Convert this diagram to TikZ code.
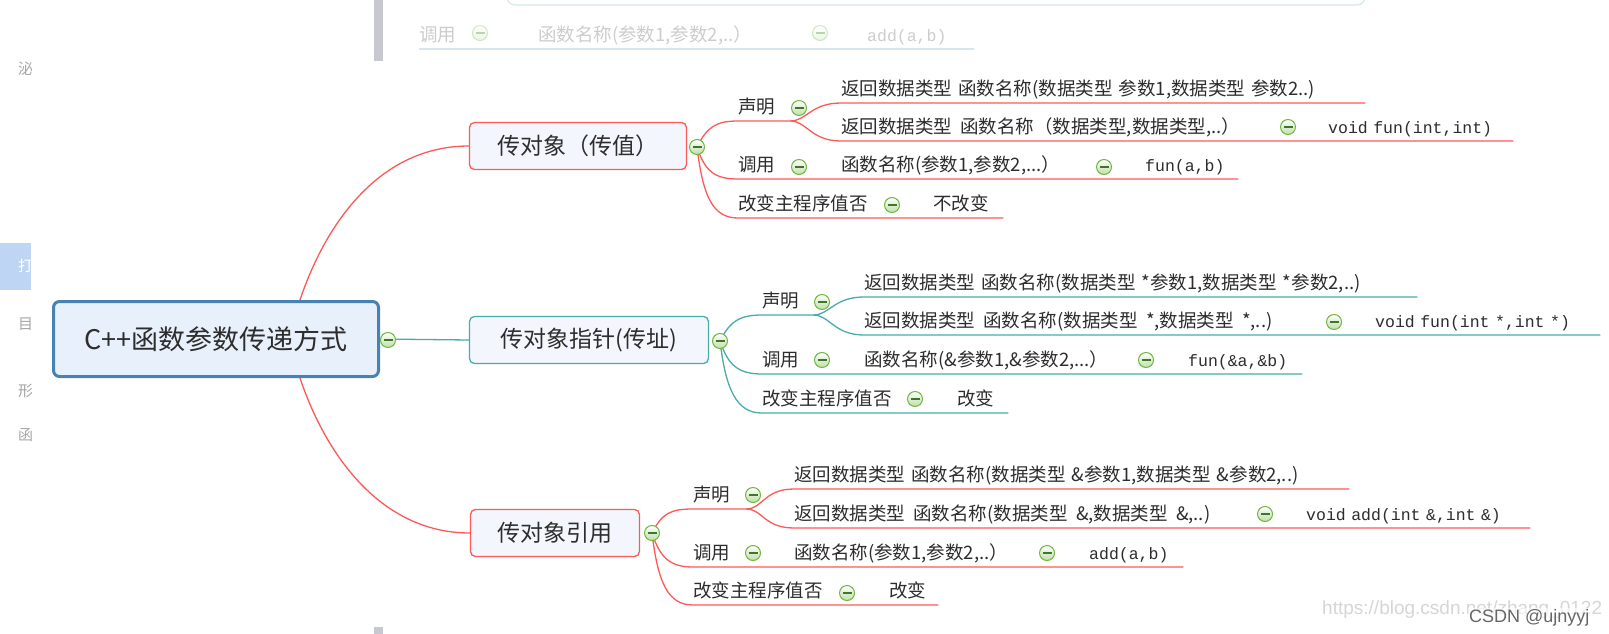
\documentclass[tikz,border=0pt]{standalone}
\usepackage{fontspec}
\setmainfont{Noto Sans CJK SC}[WordSpace=2]
\newfontfamily\codefont{Liberation Mono}
\newfontfamily\markfont{Liberation Sans}
\usetikzlibrary{backgrounds}

\definecolor{ink}{RGB}{45,45,45}
\definecolor{mapred}{RGB}{255,88,88}
\definecolor{mapteal}{RGB}{72,172,172}
\definecolor{rootblue}{RGB}{70,130,180}
\definecolor{rootfill}{RGB}{232,241,251}
\definecolor{topicfill}{RGB}{243,247,253}
\definecolor{knobgreen}{RGB}{112,182,64}
\definecolor{knobdark}{RGB}{60,120,40}
\definecolor{ghosttext}{RGB}{205,205,205}
\definecolor{ghostline}{RGB}{214,230,240}
\definecolor{sidebar}{RGB}{200,200,208}
\definecolor{sidetab}{RGB}{190,214,244}

\begin{document}
\begin{tikzpicture}[
  x=1pt, y=-1pt,
  txt/.style={anchor=south west, inner xsep=0pt, inner ysep=4pt, text height=13pt, text depth=3pt, align=left, text=ink, font=\fontsize{18.5}{20}\selectfont},
  codetxt/.style={txt, font=\codefont\fontsize{16.5}{18}\selectfont},
  topicbox/.style={draw, rounded corners=5pt, line width=1.3pt, fill=topicfill, minimum height=47pt, text=ink, font=\fontsize{23}{26}\selectfont},
  rootbox/.style={draw=rootblue, rounded corners=6pt, line width=3pt, fill=rootfill, minimum width=325pt, minimum height=75pt, text=ink, font=\fontsize{27}{30}\selectfont},
  knob/.style={circle, draw=knobgreen, line width=1pt, inner sep=0pt, minimum size=15pt, top color=white, bottom color=knobgreen!45,
    path picture={\draw[knobdark, line width=1.2pt] ([xshift=-4.5pt]path picture bounding box.center) -- ([xshift=4.5pt]path picture bounding box.center);}},
  redline/.style={draw=mapred, line width=1.3pt},
  tealline/.style={draw=mapteal, line width=1.3pt},
  ghostline/.style={draw=ghostline, line width=1.2pt}
]
\useasboundingbox (0,0) rectangle (1609,634);

% root and the three ways
\node[rootbox] (root) at (216,339) {C++函数参数传递方式};
\node[knob] (rootk) at (388,340) {};
\node[topicbox, draw=mapred, minimum width=217pt] (pv) at (578,146) {传对象（传值）};
\node[topicbox, draw=mapteal, minimum width=239pt] (pp) at (589,340) {传对象指针(传址)};
\node[topicbox, draw=mapred, minimum width=169pt] (pr) at (555,533) {传对象引用};
\node[knob] (pvk) at (697,147) {};
\node[knob] (ppk) at (720,341) {};
\node[knob] (prk) at (652,533) {};

% pass by value
\node[txt, text width=52pt] (pvdecl) at (738,121) {声明};
\node[knob] (pvdeclk) at (799,108) {};
\node[txt, text width=524pt] (pvdecl1) at (841,103) {返回数据类型 函数名称(数据类型 参数1,数据类型 参数2..)};
\node[txt] (pvdecl2) at (841,141) {返回数据类型 函数名称（数据类型,数据类型,..）};
\node[knob] (pvdecl2k) at (1288,127) {};
\node[codetxt, text width=185pt] (pvdecl2x) at (1328,141) {void fun(int,int)};
\node[txt] (pvcall) at (738,179) {调用};
\node[knob] (pvcallk) at (799,167) {};
\node[txt] (pvcall1) at (841,179) {函数名称(参数1,参数2,...）};
\node[knob] (pvcall1k) at (1104,167) {};
\node[codetxt, text width=93pt] (pvcallx) at (1145,179) {fun(a,b)};
\node[txt] (pvmod) at (738,218) {改变主程序值否};
\node[knob] (pvmodk) at (892,205) {};
\node[txt, text width=70pt] (pvmodx) at (933,218) {不改变};

% pass by pointer
\node[txt, text width=51pt] (ppdecl) at (762,315) {声明};
\node[knob] (ppdeclk) at (822,302) {};
\node[txt, text width=553pt] (ppdecl1) at (864,297) {返回数据类型 函数名称(数据类型 *参数1,数据类型 *参数2,..)};
\node[txt] (ppdecl2) at (864,335) {返回数据类型 函数名称(数据类型 *,数据类型 *,..)};
\node[knob] (ppdecl2k) at (1334,322) {};
\node[codetxt, text width=225pt] (ppdecl2x) at (1375,335) {void fun(int *,int *)};
\node[txt] (ppcall) at (762,374) {调用};
\node[knob] (ppcallk) at (822,360) {};
\node[txt] (ppcall1) at (864,374) {函数名称(\&参数1,\&参数2,...）};
\node[knob] (ppcall1k) at (1146,360) {};
\node[codetxt, text width=114pt] (ppcallx) at (1188,374) {fun(\&a,\&b)};
\node[txt] (ppmod) at (762,413) {改变主程序值否};
\node[knob] (ppmodk) at (915,399) {};
\node[txt, text width=51pt] (ppmodx) at (957,413) {改变};

% pass by reference
\node[txt, text width=53pt] (prdecl) at (693,509) {声明};
\node[knob] (prdeclk) at (753,495) {};
\node[txt, text width=555pt] (prdecl1) at (794,489) {返回数据类型 函数名称(数据类型 \&参数1,数据类型 \&参数2,..)};
\node[txt] (prdecl2) at (794,528) {返回数据类型 函数名称(数据类型 \&,数据类型 \&,..)};
\node[knob] (prdecl2k) at (1265,514) {};
\node[codetxt, text width=224pt] (prdecl2x) at (1306,528) {void add(int \&,int \&)};
\node[txt] (prcall) at (693,567) {调用};
\node[knob] (prcallk) at (753,553) {};
\node[txt] (prcall1) at (794,567) {函数名称(参数1,参数2,..）};
\node[knob] (prcall1k) at (1047,553) {};
\node[codetxt, text width=94pt] (prcallx) at (1089,567) {add(a,b)};
\node[txt] (prmod) at (693,605) {改变主程序值否};
\node[knob] (prmodk) at (847,593) {};
\node[txt, text width=49pt] (prmodx) at (889,605) {改变};

% faded bits of the window around the map
\node[draw=ghostline, line width=1.2pt, rounded corners=8pt, minimum width=858pt, minimum height=40pt] (ghost) at (936,-15) {};
\node[txt, text=ghosttext] (gcall) at (419,49) {调用};
\node[knob, opacity=0.3] (gcallk) at (480,33) {};
\node[txt, text=ghosttext] (gcall1) at (538,49) {函数名称(参数1,参数2,..）};
\node[knob, opacity=0.3] (gcall1k) at (820,33) {};
\node[codetxt, text=ghosttext, text width=107pt] (gcallx) at (867,49) {add(a,b)};
\fill[sidebar] (374,0) rectangle (383,61);
\fill[sidebar] (374,627) rectangle (383,634);
\begin{scope}
  \clip (0,0) rectangle (31,634);
  \fill[sidetab] (0,243) rectangle (31,290);
  \foreach \ch/\yy/\cc in {泌/69/black!35, 打/266/white, 目/324/black!35, 形/391/black!35, 函/435/black!35}
    \node[anchor=west, inner sep=0pt, text=\cc, font=\fontsize{15}{16}\selectfont] at (18,\yy) {\ch};
\end{scope}
\node[anchor=base west, inner sep=0pt, text=black!16, font=\markfont\fontsize{19}{20}\selectfont] (wmurl) at (1322,614) {https://blog.csdn.net/zhang\_0122};
\node[anchor=base west, inner sep=1pt, fill=white, fill opacity=0.6, text opacity=1, text=black!60, font=\markfont\fontsize{18}{20}\selectfont] (wmcsdn) at (1468,622) {CSDN @ujnyyj};

\begin{scope}[on background layer]
  \fill[white] (0,0) rectangle (1609,634);
  \draw[ghostline] (gcall.south west) -- (gcallx.south east);
  \draw[redline] ([xshift=84pt]root.north) .. controls +(25,-75) and +(-90,0) .. (pv.west);
  \draw[tealline] (root.east) -- (pp.west);
  \draw[redline] ([xshift=84pt]root.south) .. controls +(25,75) and +(-90,0) .. (pr.west);
  % value
  \draw[redline] (pvk.center) .. controls +(10,-20) and +(-22,0) .. (pvdecl.south west) -- (pvdecl.south east)
    .. controls +(16,0) and +(-30,0) .. (pvdecl1.south west) -- (pvdecl1.south east);
  \draw[redline] (pvdecl.south east) .. controls +(16,0) and +(-30,0) .. (pvdecl2.south west) -- (pvdecl2x.south east);
  \draw[redline] (pvk.center) .. controls +(8,24) and +(-24,0) .. (pvcall.south west) -- (pvcallx.south east);
  \draw[redline] (pvk.center) .. controls +(6,50) and +(-25,0) .. (pvmod.south west) -- (pvmodx.south east);
  % pointer
  \draw[tealline] (ppk.center) .. controls +(10,-20) and +(-22,0) .. (ppdecl.south west) -- (ppdecl.south east)
    .. controls +(16,0) and +(-30,0) .. (ppdecl1.south west) -- (ppdecl1.south east);
  \draw[tealline] (ppdecl.south east) .. controls +(16,0) and +(-30,0) .. (ppdecl2.south west) -- (ppdecl2x.south east);
  \draw[tealline] (ppk.center) .. controls +(8,24) and +(-24,0) .. (ppcall.south west) -- (ppcallx.south east);
  \draw[tealline] (ppk.center) .. controls +(6,50) and +(-25,0) .. (ppmod.south west) -- (ppmodx.south east);
  % reference
  \draw[redline] (prk.center) .. controls +(10,-20) and +(-22,0) .. (prdecl.south west) -- (prdecl.south east)
    .. controls +(16,0) and +(-30,0) .. (prdecl1.south west) -- (prdecl1.south east);
  \draw[redline] (prdecl.south east) .. controls +(16,0) and +(-30,0) .. (prdecl2.south west) -- (prdecl2x.south east);
  \draw[redline] (prk.center) .. controls +(8,24) and +(-24,0) .. (prcall.south west) -- (prcallx.south east);
  \draw[redline] (prk.center) .. controls +(6,50) and +(-25,0) .. (prmod.south west) -- (prmodx.south east);
\end{scope}
\end{tikzpicture}
\end{document}
